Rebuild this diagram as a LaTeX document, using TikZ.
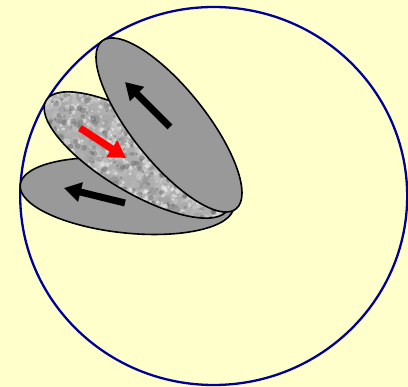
\documentclass[tikz,border=0pt]{standalone}
\usetikzlibrary{arrows.meta}
\definecolor{bgyellow}{RGB}{255,255,204}
\definecolor{ringblue}{RGB}{0,0,153}
\definecolor{petalgray}{RGB}{153,153,153}
\definecolor{granite}{RGB}{175,175,175}
\tikzset{
  petal/.style={draw=black, line width=1.6pt, fill=petalgray},
  petaledge/.style={draw=black, line width=1.6pt},
  bigarrow/.style={line width=7pt, -{Triangle[length=17pt,width=19pt]}},
}
\begin{document}
\begin{tikzpicture}[x=1pt,y=-1pt]
\useasboundingbox (0,0) rectangle (408,387);
\fill[bgyellow] (0,0) rectangle (408,387);
% big ring
\draw[ringblue, line width=2.3pt] (213.7,196) ellipse [x radius=193.5, y radius=189];
% lower petal
\begin{scope}[shift={(127,196)}, rotate=-6]
  \path[petal] (0,0) ellipse [x radius=107.4, y radius=37];
\end{scope}
% middle textured petal
\pgfmathsetseed{11}
\begin{scope}[shift={(137,155)}, rotate=-31]
  \begin{scope}
    \clip (0,0) ellipse [x radius=106, y radius=37];
    \fill[granite] (-110,-40) rectangle (110,40);
    \foreach \i in {1,...,600}{
      \pgfmathsetmacro{\px}{224*rnd-112}
      \pgfmathsetmacro{\py}{84*rnd-42}
      \pgfmathsetmacro{\rr}{2+3.5*rnd}
      \pgfmathtruncatemacro{\gg}{60*rnd}
      \fill[black!\gg, opacity=0.3] (\px,\py) circle (\rr);
    }
    \foreach \i in {1,...,300}{
      \pgfmathsetmacro{\px}{224*rnd-112}
      \pgfmathsetmacro{\py}{84*rnd-42}
      \pgfmathsetmacro{\rr}{1+1.6*rnd}
      \fill[white, opacity=0.45] (\px,\py) circle (\rr);
    }
    \foreach \i in {1,...,250}{
      \pgfmathsetmacro{\px}{224*rnd-112}
      \pgfmathsetmacro{\py}{84*rnd-42}
      \pgfmathsetmacro{\rr}{1.2+2*rnd}
      \fill[black!65, opacity=0.35] (\px,\py) circle (\rr);
    }
  \end{scope}
  \path[petaledge] (0,0) ellipse [x radius=106, y radius=37];
\end{scope}
% upper petal
\begin{scope}[shift={(169,125)}, rotate=-51.4]
  \path[petal] (0,0) ellipse [x radius=107.4, y radius=37];
\end{scope}
% arrows
\coordinate (upTail) at (170,127);
\coordinate (upTip) at (125,82);
\coordinate (lowTail) at (125,203);
\coordinate (lowTip) at (64,188);
\coordinate (redTail) at (80,128);
\coordinate (redTip) at (126,158);
\draw[bigarrow, black] (upTail) -- (upTip);
\draw[bigarrow, black] (lowTail) -- (lowTip);
\draw[bigarrow, red] (redTail) -- (redTip);
\end{tikzpicture}
\end{document}
